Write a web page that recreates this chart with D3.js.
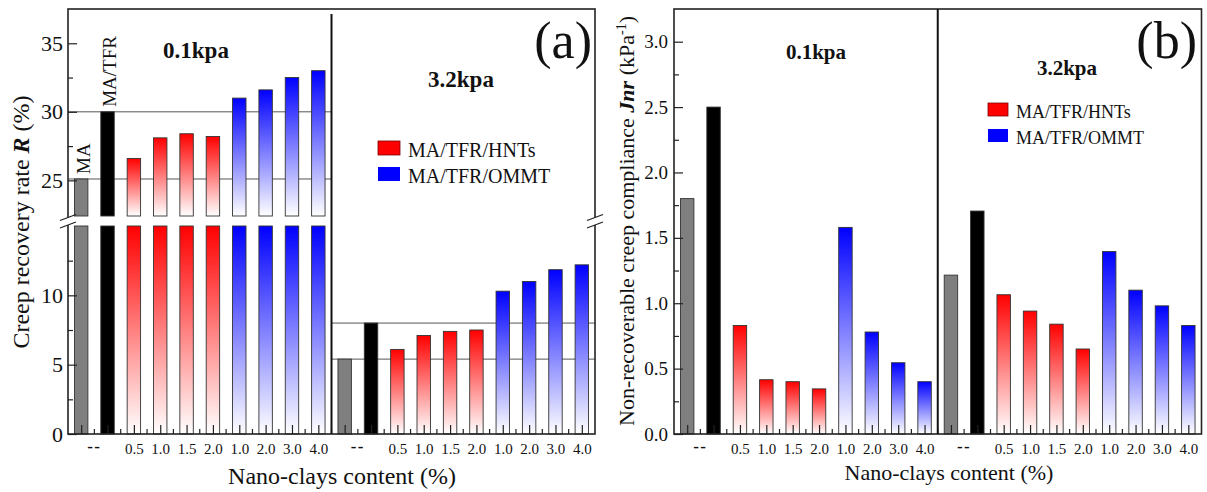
<!DOCTYPE html>
<html>
<head>
<meta charset="utf-8">
<script src="https://cdn.jsdelivr.net/npm/d3@7"></script>
<style>
  body { margin: 0; background: #fff; }
  svg { display: block; }
  text { font-family: "Liberation Serif", "Times New Roman", Times, serif; fill: #111; }
</style>
</head>
<body>
<svg id="chart" width="1207" height="492"></svg>
<script>
// ---- data ----
const loadLevels = ["0.1kpa", "3.2kpa"];
const samples = ["MA", "MA/TFR", "HNTs-0.5", "HNTs-1.0", "HNTs-1.5", "HNTs-2.0",
                 "OMMT-1.0", "OMMT-2.0", "OMMT-3.0", "OMMT-4.0"];
const sampleType = ["MA", "MA/TFR", "HNTs", "HNTs", "HNTs", "HNTs", "OMMT", "OMMT", "OMMT", "OMMT"];
const contentLabels = ["", "", "0.5", "1.0", "1.5", "2.0", "1.0", "2.0", "3.0", "4.0"];
const blankLabel = "--";

// creep recovery rate R (%)
const recovery01 = [25.1, 30.0, 26.6, 28.1, 28.4, 28.2, 31.0, 31.6, 32.5, 33.0];
const recovery32 = [5.4, 8.0, 6.1, 7.1, 7.4, 7.5, 10.3, 11.0, 11.85, 12.2];
// non-recoverable creep compliance Jnr (kPa^-1)
const jnr01 = [1.80, 2.50, 0.83, 0.415, 0.40, 0.345, 1.58, 0.78, 0.545, 0.40];
const jnr32 = [1.215, 1.705, 1.065, 0.94, 0.84, 0.65, 1.395, 1.10, 0.98, 0.83];

const legendLabels = ["MA/TFR/HNTs", "MA/TFR/OMMT"];
const recoveryTicksLower = [0, 5, 10];
const recoveryMinorLower = [2.5, 7.5, 12.5];
const recoveryTicksUpper = [25, 30, 35];
const recoveryMinorUpper = [27.5, 32.5];
const jnrTicks = [0, 0.5, 1.0, 1.5, 2.0, 2.5, 3.0];
const jnrMinor = [0.25, 0.75, 1.25, 1.75, 2.25, 2.75];

// ---- setup ----
const svg = d3.select("#chart");
const defs = svg.append("defs");
function makeGradient(id, color) {
  const g = defs.append("linearGradient").attr("id", id)
    .attr("x1", 0).attr("y1", 0).attr("x2", 0).attr("y2", 1);
  g.append("stop").attr("offset", "0%").attr("stop-color", color);
  g.append("stop").attr("offset", "100%").attr("stop-color", "#ffffff");
}
makeGradient("gradHNTs", "#ff0000");
makeGradient("gradOMMT", "#0000ff");
const fillFor = {
  "MA": "#7f7f7f",
  "MA/TFR": "#000000",
  "HNTs": "url(#gradHNTs)",
  "OMMT": "url(#gradOMMT)"
};

const keys = [];
loadLevels.forEach(l => samples.forEach(s => keys.push(l + "|" + s)));

function buildPanel(cfg) {
  const g = svg.append("g");
  const { x0, x1, top, bottom } = cfg;
  const xBand = d3.scaleBand().domain(keys).range([x0, x1]).paddingInner(0.49).paddingOuter(0.245);
  const xPt = d3.scalePoint().domain(keys).range([x0, x1]).padding(0.5);
  const step = xPt.step();
  const divX = (xPt(keys[9]) + xPt(keys[10])) / 2;

  const rows = [];
  loadLevels.forEach((l, li) => {
    cfg.values[li].forEach((v, i) => rows.push({ key: l + "|" + samples[i], type: sampleType[i], v, li, i }));
  });

  // reference lines for MA and MA/TFR
  if (cfg.refLines) {
    loadLevels.forEach((l, li) => {
      const sx0 = li === 0 ? x0 : divX;
      const sx1 = li === 0 ? divX : x1;
      [0, 1].forEach(i => {
        const v = cfg.values[li][i];
        g.append("line")
          .attr("x1", sx0).attr("x2", sx1)
          .attr("y1", cfg.yOf(v)).attr("y2", cfg.yOf(v))
          .attr("stroke", "#555").attr("stroke-width", 1);
      });
    });
  }

  // bars (split into two pieces when the value crosses the axis break)
  rows.forEach(d => {
    cfg.pieces(d.v).forEach(p => {
      g.append("rect")
        .attr("x", xBand(d.key)).attr("width", xBand.bandwidth())
        .attr("y", p.y).attr("height", p.h)
        .attr("fill", fillFor[d.type])
        .attr("stroke", "#333").attr("stroke-width", 0.9);
    });
  });

  // sample-name labels above MA and MA/TFR bars
  if (cfg.nameLabels) {
    [0, 1].forEach(i => {
      const key = loadLevels[0] + "|" + samples[i];
      const cx = xPt(key) + 8.5;
      const cy = cfg.yOf(cfg.values[0][i]) - 5;
      g.append("text")
        .attr("transform", `translate(${cx},${cy}) rotate(-90)`)
        .attr("font-size", 19).text(samples[i]);
    });
  }

  // x axis ticks (inward)
  const xAxis = d3.axisBottom(xPt).tickSizeInner(-9).tickSizeOuter(0).tickPadding(9)
    .tickFormat(k => contentLabels[samples.indexOf(k.split("|")[1])]);
  const xa = g.append("g").attr("transform", `translate(0,${bottom})`).call(xAxis);
  xa.select(".domain").remove();
  xa.selectAll("line").attr("stroke", "#222").attr("stroke-width", 1.2);
  xa.selectAll("text").attr("font-size", 15).attr("font-family", "Liberation Serif").attr("fill", "#111");
  // minor x ticks
  const pts = keys.map(k => xPt(k));
  for (let i = 0; i < pts.length - 1; i++) {
    const mx = (pts[i] + pts[i + 1]) / 2;
    g.append("line").attr("x1", mx).attr("x2", mx).attr("y1", bottom).attr("y2", bottom - 5)
      .attr("stroke", "#222").attr("stroke-width", 1.2);
  }
  // "--" labels for the unfilled binders
  loadLevels.forEach(l => {
    const mx = (xPt(l + "|" + samples[0]) + xPt(l + "|" + samples[1])) / 2;
    g.append("text").attr("x", mx).attr("y", bottom + 18).attr("text-anchor", "middle")
      .attr("font-size", 17).attr("font-weight", "bold").attr("letter-spacing", 1.5).text(blankLabel);
  });

  // y axes
  cfg.yAxes.forEach(ax => {
    const major = d3.axisLeft(ax.scale).tickValues(ax.ticks).tickSizeInner(-9).tickSizeOuter(0)
      .tickPadding(cfg.tickPad).tickFormat(ax.format);
    const ya = g.append("g").attr("transform", `translate(${x0},0)`).call(major);
    ya.select(".domain").remove();
    ya.selectAll("line").attr("stroke", "#222").attr("stroke-width", 1.2);
    ya.selectAll("text").attr("font-size", cfg.yFont).attr("font-family", "Liberation Serif").attr("fill", "#111");
    const minor = d3.axisLeft(ax.scale).tickValues(ax.minor).tickSizeInner(-5).tickSizeOuter(0).tickFormat("");
    const ym = g.append("g").attr("transform", `translate(${x0},0)`).call(minor);
    ym.select(".domain").remove();
    ym.selectAll("line").attr("stroke", "#222").attr("stroke-width", 1.2);
  });

  // frame and section divider
  g.append("rect").attr("x", x0).attr("y", top).attr("width", x1 - x0).attr("height", bottom - top)
    .attr("fill", "none").attr("stroke", "#222").attr("stroke-width", 1.6);
  g.append("line").attr("x1", divX).attr("x2", divX).attr("y1", top + cfg.divGap).attr("y2", bottom)
    .attr("stroke", "#111").attr("stroke-width", 2);

  // axis break marks
  if (cfg.breakY) {
    [x0, x1].forEach(ex => {
      g.append("rect").attr("x", ex - 3).attr("y", cfg.breakY[0]).attr("width", 6)
        .attr("height", cfg.breakY[1] - cfg.breakY[0]).attr("fill", "#fff");
      [cfg.breakY[0], cfg.breakY[1]].forEach(by => {
        g.append("line").attr("x1", ex - 8).attr("x2", ex + 8).attr("y1", by + 3).attr("y2", by - 3)
          .attr("stroke", "#222").attr("stroke-width", 1.3);
      });
    });
  }

  // load level captions
  cfg.captions.forEach((c, li) => {
    g.append("text").attr("x", c.x).attr("y", c.y).attr("text-anchor", "middle")
      .attr("font-size", c.size).attr("font-weight", "bold").text(loadLevels[li]);
  });

  // panel letter
  g.append("text").attr("x", cfg.letter.x).attr("y", cfg.letter.y).attr("text-anchor", "end")
    .attr("font-size", cfg.letter.size).text(cfg.letter.text);

  // legend
  const lg = g.append("g").attr("transform", `translate(${cfg.legend.x},${cfg.legend.y})`);
  ["HNTs", "OMMT"].forEach((t, i) => {
    lg.append("rect").attr("x", 0).attr("y", i * cfg.legend.gap).attr("width", cfg.legend.sw).attr("height", cfg.legend.sh)
      .attr("fill", t === "HNTs" ? "#ff0000" : "#0000ff")
      .attr("stroke", t === "HNTs" ? "#7a0000" : "none").attr("stroke-width", 0.8);
    lg.append("text").attr("x", cfg.legend.sw + 8).attr("y", i * cfg.legend.gap + cfg.legend.sh + 1.5)
      .attr("font-size", cfg.legend.size).text(legendLabels[i]);
  });

  // axis titles
  g.append("text").attr("x", cfg.xTitle.x).attr("y", cfg.xTitle.y).attr("text-anchor", "middle")
    .attr("font-size", cfg.xTitle.size).text("Nano-clays content (%)");
  const yt = g.append("text")
    .attr("transform", `translate(${cfg.yTitle.x},${cfg.yTitle.y}) rotate(-90)`)
    .attr("text-anchor", "middle").attr("font-size", cfg.yTitle.size);
  cfg.yTitle.build(yt);
}

// ---- panel (a): creep recovery rate with broken axis ----
const aTop = 9, aBottom = 434;
const yLo = d3.scaleLinear().domain([0, 15]).range([aBottom, 226]);
const yHi = d3.scaleLinear().domain([22.4, 37.5]).range([216, aTop]);
buildPanel({
  x0: 68, x1: 595, top: aTop, bottom: aBottom,
  values: [recovery01, recovery32],
  yOf: v => (v <= 15 ? yLo(v) : yHi(v)),
  pieces: v => v <= 15
    ? [{ y: yLo(v), h: yLo(0) - yLo(v) }]
    : [{ y: yLo(15), h: yLo(0) - yLo(15) }, { y: yHi(v), h: yHi(22.4) - yHi(v) }],
  refLines: true,
  nameLabels: true,
  yAxes: [
    { scale: yLo, ticks: recoveryTicksLower, minor: recoveryMinorLower, format: d3.format("d") },
    { scale: yHi, ticks: recoveryTicksUpper, minor: recoveryMinorUpper, format: d3.format("d") }
  ],
  tickPad: 5, yFont: 22,
  divGap: 5,
  breakY: [217.5, 225],
  captions: [{ x: 196, y: 58, size: 23 }, { x: 461, y: 87, size: 23 }],
  letter: { x: 592, y: 58, size: 52, text: "(a)" },
  legend: { x: 378, y: 141, sw: 22, sh: 14, gap: 26, size: 20 },
  xTitle: { x: 342, y: 484, size: 24 },
  yTitle: {
    x: 29, y: 222, size: 24,
    build: t => {
      t.append("tspan").text("Creep recovery rate ");
      t.append("tspan").attr("font-weight", "bold").attr("font-style", "italic").text("R");
      t.append("tspan").text(" (%)");
    }
  }
});

// ---- panel (b): non-recoverable creep compliance ----
const bTop = 9, bBottom = 434;
const yJ = d3.scaleLinear().domain([0, 3.25]).range([bBottom, bTop]);
buildPanel({
  x0: 674, x1: 1201.5, top: bTop, bottom: bBottom,
  values: [jnr01, jnr32],
  yOf: v => yJ(v),
  pieces: v => [{ y: yJ(v), h: yJ(0) - yJ(v) }],
  refLines: false,
  nameLabels: false,
  yAxes: [
    { scale: yJ, ticks: jnrTicks, minor: jnrMinor, format: d3.format(".1f") }
  ],
  tickPad: 6, yFont: 19,
  divGap: 0,
  breakY: null,
  captions: [{ x: 816, y: 59, size: 21 }, { x: 1067, y: 75, size: 21 }],
  letter: { x: 1197, y: 58, size: 52, text: "(b)" },
  legend: { x: 988, y: 103, sw: 20, sh: 13, gap: 26, size: 18 },
  xTitle: { x: 949, y: 480, size: 22 },
  yTitle: {
    x: 634, y: 221, size: 22,
    build: t => {
      t.append("tspan").text("Non-recoverable creep compliance ");
      t.append("tspan").attr("font-weight", "bold").attr("font-style", "italic").text("Jnr");
      t.append("tspan").text(" (kPa");
      t.append("tspan").attr("font-size", 14).attr("dy", -8).text("-1");
      t.append("tspan").attr("dy", 8).text(")");
    }
  }
});
</script>
</body>
</html>
